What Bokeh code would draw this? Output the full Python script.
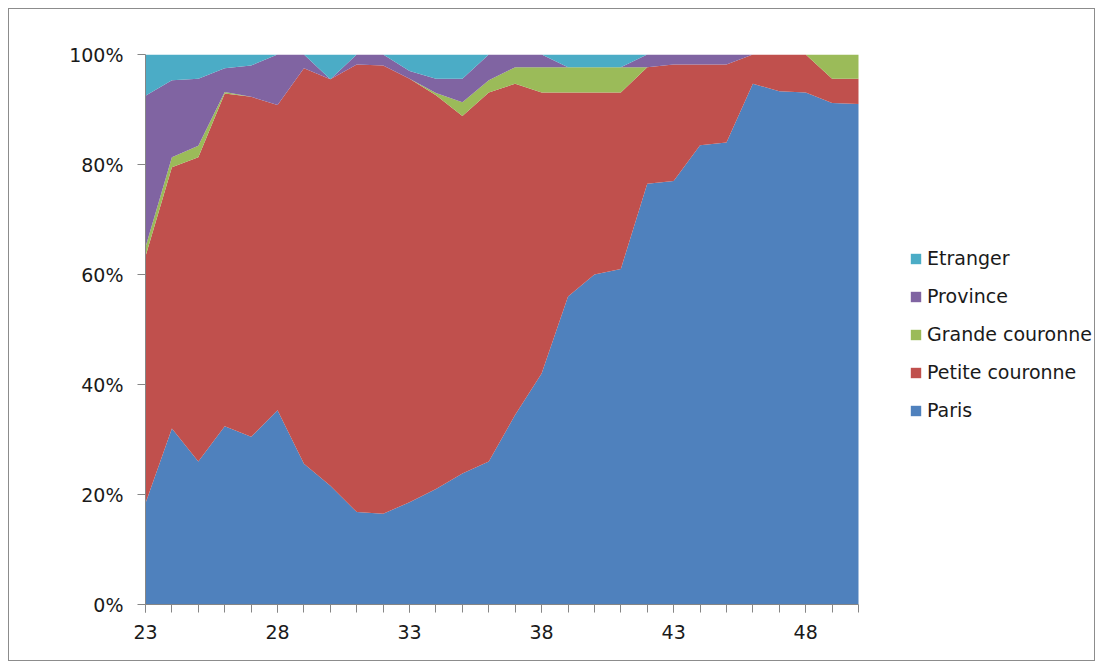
from bokeh.plotting import figure
from bokeh.models import (ColumnDataSource, Range1d, FixedTicker, PrintfTickFormatter,
                          Legend, LegendItem)
from bokeh.embed import file_html
from bokeh.resources import INLINE

# ---- data (percent of each age group) ----
ages = list(range(23, 51))
paris = [18.4, 32.0, 26.0, 32.4, 30.5, 35.3, 25.6, 21.6, 16.8, 16.5, 18.6, 21.0, 23.8, 26.0,
         34.5, 42.0, 56.0, 60.0, 61.0, 76.5, 77.0, 83.5, 84.0, 94.7, 93.3, 93.1, 91.2, 91.0]
petite_couronne = [44.9, 47.5, 55.3, 60.5, 61.8, 55.5, 71.9, 73.9, 81.4, 81.5, 77.0, 71.6, 65.0, 67.1,
                   60.2, 51.1, 37.1, 33.1, 32.1, 21.2, 21.2, 14.7, 14.2, 5.3, 6.7, 6.9, 4.4, 4.6]
grande_couronne = [1.7, 1.8, 2.1, 0.3, 0.0, 0.0, 0.0, 0.0, 0.0, 0.0, 0.0, 0.4, 2.5, 2.2,
                   3.0, 4.6, 4.6, 4.6, 4.6, 0.0, 0.0, 0.0, 0.0, 0.0, 0.0, 0.0, 4.4, 4.4]
province = [27.5, 14.0, 12.2, 4.3, 5.7, 9.2, 2.5, 0.0, 1.8, 2.0, 1.4, 2.6, 4.3, 4.7,
            2.3, 2.3, 0.0, 0.0, 0.0, 2.3, 1.8, 1.8, 1.8, 0.0, 0.0, 0.0, 0.0, 0.0]
etranger = [7.5, 4.7, 4.4, 2.5, 2.0, 0.0, 0.0, 4.5, 0.0, 0.0, 3.0, 4.4, 4.4, 0.0,
            0.0, 0.0, 2.3, 2.3, 2.3, 0.0, 0.0, 0.0, 0.0, 0.0, 0.0, 0.0, 0.0, 0.0]

series_names = ["Paris", "Petite couronne", "Grande couronne", "Province", "Etranger"]
series_keys = ["paris", "petite", "grande", "province", "etranger"]
series_colors = ["#4F81BD", "#C0504D", "#9BBB59", "#8064A2", "#4BACC6"]

x_tick_labels = [23, 28, 33, 38, 43, 48]
y_ticks = [0, 20, 40, 60, 80, 100]

source = ColumnDataSource(dict(x=ages, paris=paris, petite=petite_couronne,
                               grande=grande_couronne, province=province, etranger=etranger))

FONT = "DejaVu Sans"

# geometry: plot area of 713 px for the 27 age steps, legend area of 238 px to its right
x0, x1 = ages[0], ages[-1]
plot_px, legend_px = 713, 238
x_end = x1 + (x1 - x0) * legend_px / plot_px

p = figure(width=1087, height=653, output_backend="svg", toolbar_location=None,
           x_range=Range1d(x0, x_end), y_range=Range1d(0, 100),
           min_border_left=136, min_border_right=0, min_border_top=45, min_border_bottom=58)
p.styles = {"border": "1px solid #8c8c8c", "margin": "8px"}
p.background_fill_color = "white"
p.border_fill_color = "white"
p.outline_line_color = None
p.grid.visible = False

renderers = p.varea_stack(series_keys, x="x", color=series_colors, source=source)

# axes
p.xaxis.bounds = (x0, x1)
p.xaxis.ticker = FixedTicker(ticks=x_tick_labels, minor_ticks=ages)
p.yaxis.ticker = FixedTicker(ticks=y_ticks, minor_ticks=[])
p.yaxis.formatter = PrintfTickFormatter(format="%d%%")
for ax in (p.xaxis, p.yaxis):
    ax.axis_line_color = "#868686"
    ax.major_tick_line_color = "#868686"
    ax.minor_tick_line_color = "#868686"
    ax.major_tick_in = 0
    ax.major_tick_out = 8
    ax.minor_tick_in = 0
    ax.minor_tick_out = 8
    ax.major_label_text_font = FONT
    ax.major_label_text_font_size = "19px"
    ax.major_label_text_color = "#1a1a1a"
p.xaxis.major_label_standoff = 12
p.yaxis.major_label_standoff = 14

items = [LegendItem(label=n, renderers=[r]) for n, r in zip(series_names, renderers)]
items.reverse()
legend = Legend(items=items, location=(764, 183), orientation="vertical",
                label_text_font=FONT, label_text_font_size="19px", label_text_color="#1a1a1a",
                glyph_width=13, glyph_height=13, label_standoff=5, spacing=16,
                padding=0, margin=0, border_line_color=None, background_fill_alpha=0)
p.add_layout(legend, "center")

open("out.html", "w").write(file_html(p, INLINE))
